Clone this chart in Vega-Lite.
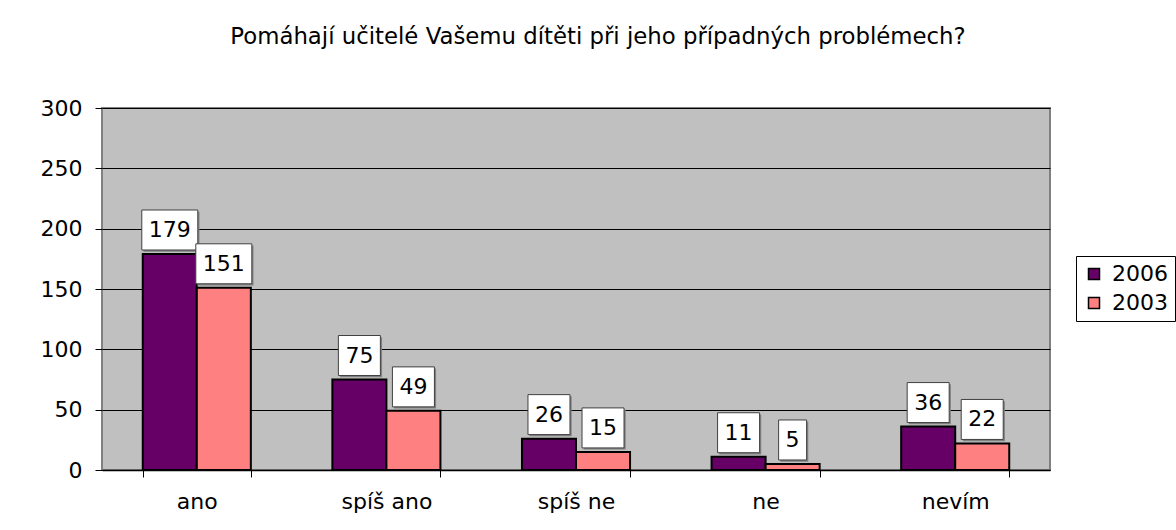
{
  "$schema": "https://vega.github.io/schema/vega-lite/v6.json",
  "autosize": "none",
  "width": 948,
  "height": 362,
  "padding": {"left": 102, "top": 108, "right": 126, "bottom": 60},
  "background": "white",
  "config": {
    "font": "DejaVu Sans",
    "view": {"fill": "#C0C0C0", "stroke": "#808080", "strokeWidth": 2}
  },
  "title": {
    "text": "Pomáhají učitelé Vašemu dítěti při jeho případných problémech?",
    "fontSize": 22.8,
    "fontWeight": "normal",
    "color": "black",
    "baseline": "middle",
    "offset": 37,
    "dx": 22
  },
  "data": {
    "values": [
      {"kategorie": "ano", "rok": "2006", "pocet": 179},
      {"kategorie": "ano", "rok": "2003", "pocet": 151},
      {"kategorie": "spíš ano", "rok": "2006", "pocet": 75},
      {"kategorie": "spíš ano", "rok": "2003", "pocet": 49},
      {"kategorie": "spíš ne", "rok": "2006", "pocet": 26},
      {"kategorie": "spíš ne", "rok": "2003", "pocet": 15},
      {"kategorie": "ne", "rok": "2006", "pocet": 11},
      {"kategorie": "ne", "rok": "2003", "pocet": 5},
      {"kategorie": "nevím", "rok": "2006", "pocet": 36},
      {"kategorie": "nevím", "rok": "2003", "pocet": 22}
    ]
  },
  "transform": [
    {"calculate": "datum.pocet >= 100 ? 'w3' : (datum.pocet >= 10 ? 'w2' : 'w1')", "as": "sirka"}
  ],
  "encoding": {
    "x": {
      "field": "kategorie",
      "type": "nominal",
      "sort": ["ano", "spíš ano", "spíš ne", "ne", "nevím"],
      "scale": {"paddingInner": 0.43, "paddingOuter": 0.215},
      "axis": {
        "title": null,
        "labelAngle": 0,
        "labelFontSize": 22,
        "labelColor": "black",
        "labelPadding": 14,
        "tickBand": "extent",
        "tickSize": 7,
        "tickColor": "black",
        "domainColor": "black",
        "domainWidth": 1.5
      }
    },
    "xOffset": {
      "field": "rok",
      "type": "nominal",
      "sort": ["2006", "2003"],
      "scale": {"paddingInner": 0, "paddingOuter": 0}
    },
    "y": {
      "field": "pocet",
      "type": "quantitative",
      "scale": {"domain": [0, 300], "nice": false},
      "axis": {
        "title": null,
        "values": [0, 50, 100, 150, 200, 250, 300],
        "labelFontSize": 22,
        "labelColor": "black",
        "labelPadding": 13,
        "tickSize": 7,
        "tickColor": "black",
        "domain": false,
        "gridColor": "black",
        "gridOpacity": 1,
        "gridWidth": 1
      }
    }
  },
  "layer": [
    {
      "mark": {"type": "bar", "stroke": "black", "strokeWidth": 2},
      "encoding": {
        "color": {
          "field": "rok",
          "type": "nominal",
          "scale": {"domain": ["2006", "2003"], "range": ["#660066", "#FF8080"]},
          "legend": {
            "title": null,
            "orient": "none",
            "legendX": 974,
            "legendY": 148,
            "strokeColor": "black",
            "fillColor": "white",
            "padding": 7,
            "labelFontSize": 22,
            "labelColor": "black",
            "symbolType": "square",
            "symbolSize": 121,
            "symbolStrokeColor": "black",
            "symbolStrokeWidth": 1.5,
            "symbolOpacity": 1,
            "labelOffset": 7,
            "rowPadding": 7
          }
        }
      }
    },
    {
      "mark": {"type": "point", "filled": true, "fill": "#808080", "strokeWidth": 0, "opacity": 1, "size": 3136, "yOffset": -24},
      "encoding": {
        "shape": {
          "field": "sirka",
          "type": "nominal",
          "legend": null,
          "scale": {
            "domain": ["w1", "w2", "w3"],
            "range": [
              "M-0.44,-0.654L0.56,-0.654L0.56,0.774L-0.44,0.774Z",
              "M-0.69,-0.654L0.81,-0.654L0.81,0.774L-0.69,0.774Z",
              "M-0.94,-0.654L1.06,-0.654L1.06,0.774L-0.94,0.774Z"
            ]
          }
        }
      }
    },
    {
      "mark": {"type": "point", "filled": true, "fill": "white", "stroke": "#404040", "strokeWidth": 1, "opacity": 1, "size": 3136, "yOffset": -24},
      "encoding": {
        "shape": {
          "field": "sirka",
          "type": "nominal",
          "legend": null,
          "scale": {
            "domain": ["w1", "w2", "w3"],
            "range": [
              "M-0.5,-0.714L0.5,-0.714L0.5,0.714L-0.5,0.714Z",
              "M-0.75,-0.714L0.75,-0.714L0.75,0.714L-0.75,0.714Z",
              "M-1,-0.714L1,-0.714L1,0.714L-1,0.714Z"
            ]
          }
        }
      }
    },
    {
      "mark": {"type": "text", "fontSize": 22, "color": "black", "baseline": "middle", "align": "center", "yOffset": -24},
      "encoding": {
        "text": {"field": "pocet", "type": "quantitative"}
      }
    }
  ],
  "resolve": {"scale": {"shape": "independent"}}
}
